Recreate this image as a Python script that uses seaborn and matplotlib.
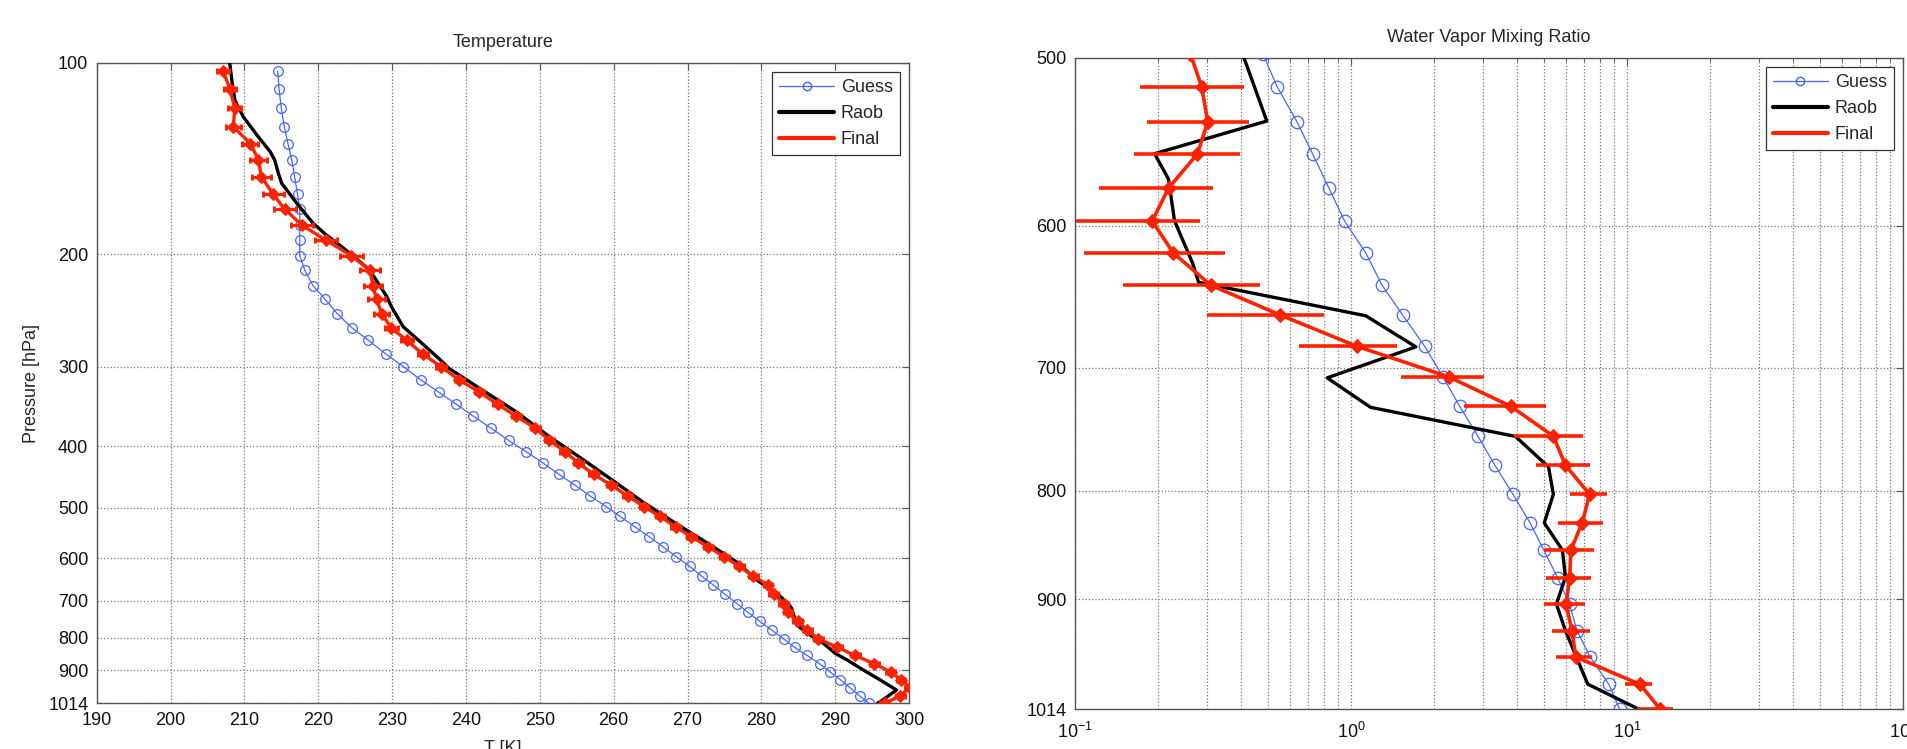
import matplotlib
matplotlib.use('Agg')
import matplotlib.pyplot as plt
from matplotlib.lines import Line2D
from matplotlib.ticker import NullLocator, LogLocator
import seaborn as sns

# pressure levels [hPa]
levels = [103, 110, 118, 126, 134, 142, 151, 161, 170, 180,
          190, 201, 212, 224, 235, 248, 261, 273, 287, 300,
          315, 329, 344, 359, 375, 392, 408, 425, 443, 461,
          479, 498, 516, 536, 555, 576, 597, 618, 640, 661,
          684, 707, 730, 754, 778, 803, 828, 853, 879, 905,
          931, 958, 987, 1014]

# temperature [K]
guess_t = [214.5, 214.7, 215.0, 215.4, 215.9, 216.4, 216.8, 217.2, 217.5, 217.5,
           217.5, 217.5, 218.2, 219.3, 220.9, 222.6, 224.6, 226.8, 229.2, 231.5,
           233.9, 236.3, 238.7, 241.0, 243.4, 245.8, 248.1, 250.4, 252.6, 254.8,
           256.8, 259.0, 260.9, 262.9, 264.8, 266.7, 268.5, 270.3, 271.9, 273.5,
           275.1, 276.7, 278.2, 279.8, 281.4, 283.0, 284.5, 286.2, 287.9, 289.3,
           290.7, 292.0, 293.3, 294.6]

final_t = [207.1, 208.05, 208.7, 208.5, 210.8, 211.9, 212.3, 213.9, 215.5, 217.8,
           221.05, 224.5, 227.0, 227.4, 227.9, 228.6, 229.9, 232.0, 234.2, 236.6,
           239.1, 241.8, 244.3, 246.8, 249.4, 251.3, 253.4, 255.2, 257.3, 259.7,
           261.9, 264.1, 266.3, 268.4, 270.5, 272.8, 275.0, 277.0, 278.9, 280.9,
           281.7, 283.0, 283.6, 284.9, 286.2, 287.7, 290.3, 292.7, 295.3, 297.5,
           298.9, 300.1, 298.8, 296.7]

final_t_err = [0.8, 0.8, 0.9, 1.0, 1.1, 1.2, 1.3, 1.4, 1.5, 1.5,
               1.5, 1.5, 1.3, 1.2, 1.1, 1.0, 0.9, 0.8, 0.7, 0.7,
               0.6, 0.6, 0.6, 0.6, 0.6, 0.6, 0.6, 0.6, 0.6, 0.6,
               0.6, 0.6, 0.6, 0.6, 0.6, 0.6, 0.6, 0.6, 0.6, 0.6,
               0.6, 0.6, 0.6, 0.6, 0.6, 0.6, 0.6, 0.6, 0.6, 0.6,
               0.6, 0.6, 0.6, 0.6]

raob_p = [100, 106.5, 114.4, 121.6, 129.9, 138, 142.2, 149.2, 154.7, 166.3,
          178.7, 186.5, 193.4, 202.9, 211.6, 224.7, 233.1, 241.6, 259.8, 274.3,
          291.2, 302, 326.6, 353.3, 386.7, 415.7, 452.3, 489.2, 529, 565.3,
          611, 645.5, 665.3, 685.5, 702.3, 719.4, 732.4, 764.1, 792.2, 816.3,
          846.3, 866.9, 898.8, 932, 966.5, 1008, 1014]
raob_t = [208.0, 208.3, 208.7, 209.85, 211.7, 213.5, 214.1, 214.6, 215.05, 217.1,
          219.3, 221.1, 222.9, 225.1, 226.95, 228.4, 229.3, 229.9, 231.5, 233.8,
          236.3, 237.7, 242.2, 246.8, 251.3, 255.3, 259.8, 263.9, 268.4, 272.4,
          276.9, 279.1, 280.7, 282.3, 283.4, 284.1, 284.3, 284.8, 286.6, 288.4,
          290.0, 291.6, 293.8, 296.1, 298.3, 296.1, 295.7]

# water vapor mixing ratio (levels from 498 hPa down)
wv_levels = levels[31:]
guess_q = [0.48, 0.540, 0.637, 0.726, 0.832, 0.948, 1.131, 1.296, 1.538, 1.852,
           2.154, 2.480, 2.885, 3.321, 3.863, 4.448, 4.993, 5.605, 6.199, 6.585,
           7.356, 8.60, 9.41]
final_q = [0.262, 0.2877, 0.3027, 0.2779, 0.2183, 0.1905, 0.2272, 0.3104, 0.5536, 1.054,
           2.265, 3.805, 5.411, 5.984, 7.318, 6.889, 6.262, 6.199, 6.015, 6.325,
           6.519, 11.17, 13.19]
final_q_lo = [0.17, 0.1714, 0.1829, 0.1630, 0.1223, 0.1010, 0.1078, 0.1496, 0.2996, 0.6504,
              1.5147, 2.569, 3.901, 4.700, 6.230, 5.605, 4.993, 5.069, 4.993, 5.357,
              5.521, 9.850, 10.893]
final_q_hi = [0.40, 0.4094, 0.4260, 0.3952, 0.3151, 0.2834, 0.3484, 0.4689, 0.7993, 1.4696,
              3.034, 5.069, 6.925, 7.320, 8.471, 8.219, 7.582, 7.431, 7.066, 7.357,
              7.469, 12.356, 14.738]

raob_q_p = [500, 535.6, 554.9, 570.5, 596.8, 624.9, 638, 661.6, 684.3, 707.7,
            730.7, 754.1, 779.5, 803, 828.3, 853.1, 878.6, 904.5, 931.1, 986.7, 1014]
raob_q = [0.4094, 0.4955, 0.1943, 0.2183, 0.2294, 0.2668, 0.2806, 1.1313, 1.7179, 0.8198,
          1.1778, 3.9407, 5.1963, 5.411, 5.0153, 5.8345, 5.984, 5.549, 5.984, 7.2083, 11.06]

temp_ticks = [100, 200, 300, 400, 500, 600, 700, 800, 900, 1014]
wv_ticks = [500, 600, 700, 800, 900, 1014]

sns.set_style('white')
plt.rcParams['font.family'] = ['Liberation Sans', 'DejaVu Sans']
plt.rcParams['mathtext.fontset'] = 'custom'
plt.rcParams['mathtext.rm'] = 'Liberation Sans'
plt.rcParams['mathtext.it'] = 'Liberation Sans:italic'

blue = '#4466ff'
red = '#ff2200'
fs = 13

fig = plt.figure(figsize=(19.07, 7.49), dpi=100)
ax1 = fig.add_axes([0.0507, 0.061, 0.426, 0.8553])
ax2 = fig.add_axes([0.5637, 0.053, 0.4342, 0.870])

# ---- Temperature
ax1.set_yscale('log')
sns.lineplot(x=guess_t, y=levels, ax=ax1, sort=False, estimator=None, color=blue,
             linewidth=0.9, marker='o', markersize=7, markerfacecolor='none',
             markeredgecolor=blue, markeredgewidth=0.9, zorder=3)
sns.lineplot(x=raob_t, y=raob_p, ax=ax1, sort=False, estimator=None, color='black',
             linewidth=2.4, zorder=4)
ax1.errorbar(final_t, levels, xerr=final_t_err, fmt='none', ecolor=red,
             elinewidth=2.2, capsize=2.5, capthick=2.2, zorder=5)
sns.lineplot(x=final_t, y=levels, ax=ax1, sort=False, estimator=None, color=red,
             linewidth=2.4, marker='D', markersize=6, markeredgecolor=red, zorder=6)
ax1.set_xlim(190, 300)
ax1.set_ylim(1014, 100)
ax1.set_xticks(range(190, 301, 10))
ax1.set_yticks(temp_ticks, [str(t) for t in temp_ticks])
ax1.yaxis.set_minor_locator(NullLocator())
ax1.set_title('Temperature', fontsize=fs, pad=11)
ax1.set_xlabel('T [K]', fontsize=fs, labelpad=8)
ax1.set_ylabel('Pressure [hPa]', fontsize=fs, labelpad=6)

# ---- Water vapor
ax2.set_xscale('log')
ax2.set_yscale('log')
sns.lineplot(x=guess_q, y=wv_levels, ax=ax2, sort=False, estimator=None, color=blue,
             linewidth=0.9, marker='o', markersize=9, markerfacecolor='none',
             markeredgecolor=blue, markeredgewidth=0.9, zorder=3)
sns.lineplot(x=raob_q, y=raob_q_p, ax=ax2, sort=False, estimator=None, color='black',
             linewidth=2.4, zorder=4)
q_err = [[c - lo for c, lo in zip(final_q, final_q_lo)],
         [hi - c for c, hi in zip(final_q, final_q_hi)]]
ax2.errorbar(final_q, wv_levels, xerr=q_err, fmt='none', ecolor=red,
             elinewidth=2.6, capsize=0, zorder=5)
sns.lineplot(x=final_q, y=wv_levels, ax=ax2, sort=False, estimator=None, color=red,
             linewidth=2.6, marker='D', markersize=7, markeredgecolor=red, zorder=6)
ax2.set_xlim(0.1, 100)
ax2.set_ylim(1014, 500)
ax2.xaxis.set_major_locator(LogLocator(base=10, numticks=10))
ax2.xaxis.set_minor_locator(LogLocator(base=10, subs=range(2, 10), numticks=20))
ax2.set_yticks(wv_ticks, [str(t) for t in wv_ticks])
ax2.yaxis.set_minor_locator(NullLocator())
ax2.set_title('Water Vapor Mixing Ratio', fontsize=fs, pad=11)

handles = [Line2D([], [], color=blue, lw=0.9, marker='o', ms=6, mfc='none', mec=blue),
           Line2D([], [], color='black', lw=3),
           Line2D([], [], color=red, lw=3)]
for ax in (ax1, ax2):
    ax.grid(True, which='major', linestyle=':', color='#777777', linewidth=0.9)
    ax.tick_params(which='both', direction='in', top=True, right=True,
                   labelsize=fs, colors='#555555', labelcolor='#111111', pad=6)
    ax.tick_params(which='major', length=5)
    ax.tick_params(which='minor', length=3)
    for s in ax.spines.values():
        s.set_color('#555555')
        s.set_linewidth(1.0)
    leg = ax.legend(handles, ['Guess', 'Raob', 'Final'], loc='upper right',
                    fontsize=fs, handlelength=3.0, handletextpad=0.4,
                    fancybox=False, framealpha=1, edgecolor='#333333',
                    borderaxespad=0.5)
    leg.get_frame().set_linewidth(0.9)
ax2.grid(True, which='minor', axis='x', linestyle=':', color='#777777', linewidth=0.9)
ax2.tick_params(axis='x', pad=9)

fig.savefig('out.png', dpi=100)
